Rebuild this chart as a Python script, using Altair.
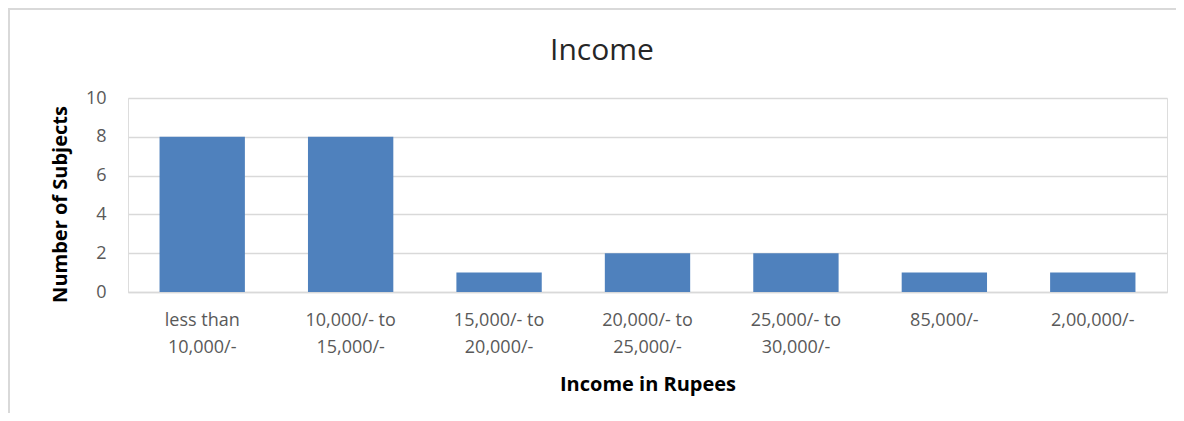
import altair as alt
import pandas as pd

categories = [
    "less than\n10,000/-",
    "10,000/- to\n15,000/-",
    "15,000/- to\n20,000/-",
    "20,000/- to\n25,000/-",
    "25,000/- to\n30,000/-",
    "85,000/-",
    "2,00,000/-",
]
subjects = [8, 8, 1, 2, 2, 1, 1]
y_ticks = [0, 2, 4, 6, 8, 10]
chart_title = ["Income"]

df = pd.DataFrame({"income": categories, "subjects": subjects})

FONT = "Open Sans"
W, H = 1039, 194
PL, PT = 120, 90

bars = alt.Chart(df).mark_bar(color="#4f81bd").encode(
    x=alt.X(
        "income:N",
        sort=categories,
        scale=alt.Scale(paddingInner=0.425, paddingOuter=0.2125),
        axis=alt.Axis(
            title="Income in Rupees",
            labelAngle=0,
            labelExpr="split(datum.label, '\\n')",
            labelLineHeight=27,
            labelFontSize=18,
            labelColor="#595959",
            labelFont=FONT,
            labelPadding=19,
            labelBaseline="top",
            ticks=False,
            domainColor="#d9d9d9",
            domainWidth=1.5,
            titleFont=FONT,
            titleFontSize=20,
            titleFontWeight="bold",
            titleColor="#000000",
            titlePadding=18,
        ),
    ),
    y=alt.Y(
        "subjects:Q",
        scale=alt.Scale(domain=[0, 10]),
        axis=alt.Axis(
            title="Number of Subjects",
            values=y_ticks,
            grid=True,
            gridColor="#d9d9d9",
            gridWidth=1.5,
            domain=False,
            ticks=False,
            labelFontSize=18,
            labelColor="#595959",
            labelFont=FONT,
            labelPadding=22,
            titleFont=FONT,
            titleFontSize=20,
            titleFontWeight="bold",
            titleColor="#000000",
            titlePadding=15,
            titleY=106,
        ),
    ),
)

title_df = pd.DataFrame({"t": chart_title})
title_mark = alt.Chart(title_df).mark_text(
    font=FONT, fontSize=30, color="#262626", baseline="middle", align="center"
).encode(text="t:N", x=alt.value(602 - 8 - PL), y=alt.value(51 - 8 - PT))

border_df = pd.DataFrame({"k": [0]})
top_border = alt.Chart(border_df).mark_rule(color="#d9d9d9", strokeWidth=2).encode(
    x=alt.value(-PL), x2=alt.value(W + 9), y=alt.value(-PT + 1)
)
left_border = alt.Chart(border_df).mark_rule(color="#d9d9d9", strokeWidth=2).encode(
    x=alt.value(-PL + 1), y=alt.value(-PT), y2=alt.value(H + 121)
)

chart = (
    alt.layer(bars, title_mark, top_border, left_border)
    .properties(
        width=W,
        height=H,
        autosize=alt.AutoSizeParams(type="none"),
        padding={"left": PL, "top": PT, "right": 9, "bottom": 121},
    )
    .configure_view(stroke=None)
    .configure(background="white")
)

chart.save("out.html", embed_options={"renderer": "svg", "actions": False})
